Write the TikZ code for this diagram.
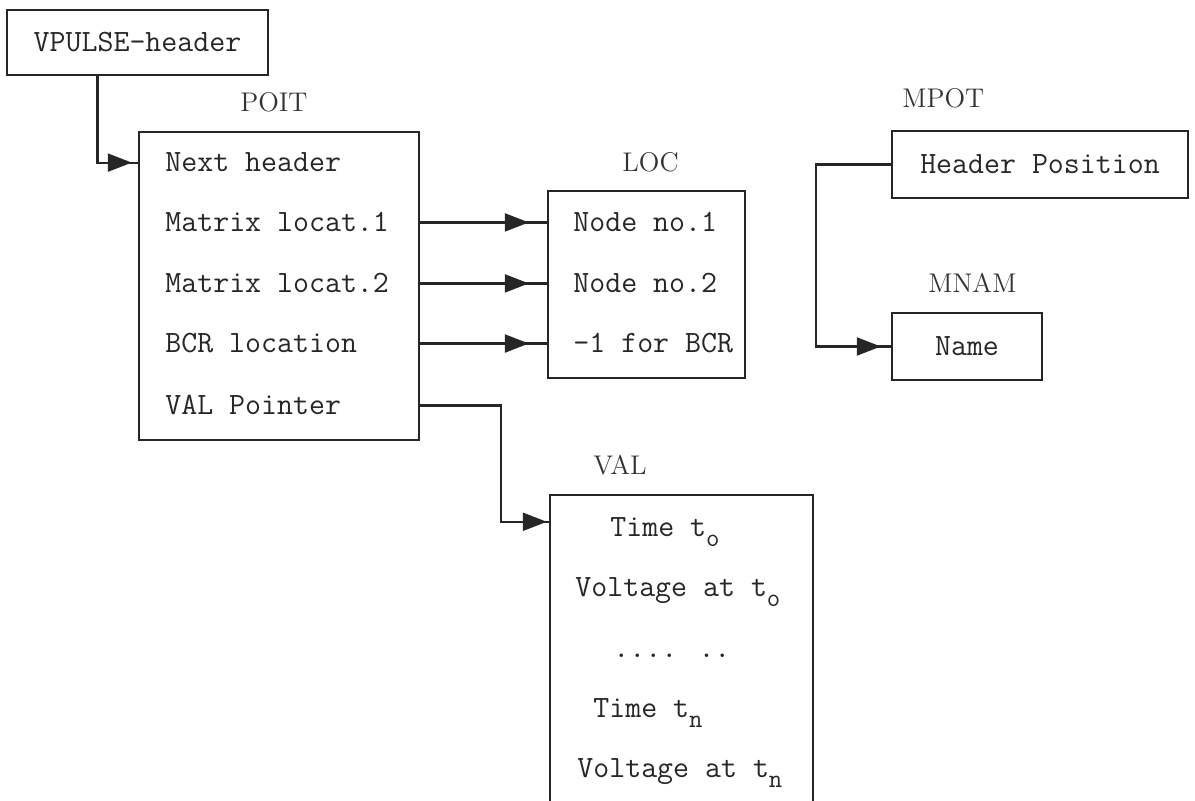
\documentclass[tikz,border=0pt]{standalone}
\usepackage{tikz}
\usetikzlibrary{arrows.meta,decorations.markings}
\tikzset{
  memblock/.style = {draw=black!85, line width=1.2pt, inner sep=0pt,
                     font=\fontsize{15.5}{18}\selectfont\ttfamily, text=black!85},
  rowtext/.style  = {anchor=base west, inner sep=0pt,
                     font=\fontsize{15.5}{18}\selectfont\ttfamily, text=black!85},
  arrname/.style  = {anchor=base west, inner sep=0pt,
                     font=\fontsize{13.5}{16}\selectfont\rmfamily, text=black!80},
  link/.style     = {black!85, line width=1.1pt},
  tipat/.style    = {postaction={decorate}, decoration={markings,
                     mark=at position #1 with {\arrow{Triangle[length=12pt,width=9pt]}}}}
}
\newcommand{\lowsub}[1]{\raisebox{-5pt}{\fontsize{13}{13}\selectfont #1}}

\begin{document}
\begin{tikzpicture}[x=0.5pt,y=-0.5pt]
  \useasboundingbox (0,0) rectangle (1195,801);
  \clip (0,0) rectangle (1195,801);
  % header and the arrays it points into
  \node[memblock, minimum width=130.5pt, minimum height=32.5pt] (vpulse) at (137.5,42.5) {VPULSE-header};
  \node[memblock, minimum width=140pt, minimum height=154pt] (poit) at (279,286) {};
  \node[memblock, minimum width=98.5pt, minimum height=93.5pt] (loc) at (646.5,284.5) {};
  \node[memblock, minimum width=148pt, minimum height=33.5pt] (mpot) at (1040,164.5) {Header Position};
  \node[memblock, minimum width=75pt, minimum height=33.5pt] (mnam) at (967,346.5) {Name};
  \node[memblock, minimum width=131.5pt, minimum height=167.5pt] (val) at (681.5,662.5) {};
  % array names
  \node[arrname] (tpoit) at (240,112) {POIT};
  \node[arrname] (tloc)  at (622,172) {LOC};
  \node[arrname] (tmpot) at (902,108) {MPOT};
  \node[arrname] (tmnam) at (928,293) {MNAM};
  \node[arrname] (tval)  at (593,475) {VAL};
  % entries
  \node[rowtext] (pnext) at (165,172) {Next header};
  \node[rowtext] (pmat1) at (165,232) {Matrix locat.1};
  \node[rowtext] (pmat2) at (165,293) {Matrix locat.2};
  \node[rowtext] (pbcr)  at (165,353) {BCR location};
  \node[rowtext] (pval)  at (165,415) {VAL Pointer};
  \node[rowtext] (lnode1) at (573,232) {Node no.1};
  \node[rowtext] (lnode2) at (573,293) {Node no.2};
  \node[rowtext] (lbcr)   at (573,353) {-1 for BCR};
  \node[rowtext] (vtime0) at (610,537) {Time t\lowsub{o}};
  \node[rowtext] (vvolt0) at (575,597) {Voltage at t\lowsub{o}};
  \node[rowtext] (vdots)  at (613,658) {.... ..};
  \node[rowtext] (vtimen) at (593,718) {Time t\lowsub{n}};
  \node[rowtext] (vvoltn) at (577,778) {Voltage at t\lowsub{n}};
  % pointers
  \draw[link, tipat=-3pt] ([xshift=-20pt]vpulse.south) |- (poit.west |- pnext);
  \foreach \r in {pmat1,pmat2,pbcr}
    \draw[link, tipat=-9pt] (poit.east |- \r) -- (loc.west |- \r);
  \draw[link, tipat=-5pt] (mpot.west) -- ++(-75,0) |- (mnam.west);
  \draw[link, tipat=-1pt] (poit.east |- pval) -- ++(81,0) |- ([yshift=-14pt]val.north west);
\end{tikzpicture}
\end{document}
